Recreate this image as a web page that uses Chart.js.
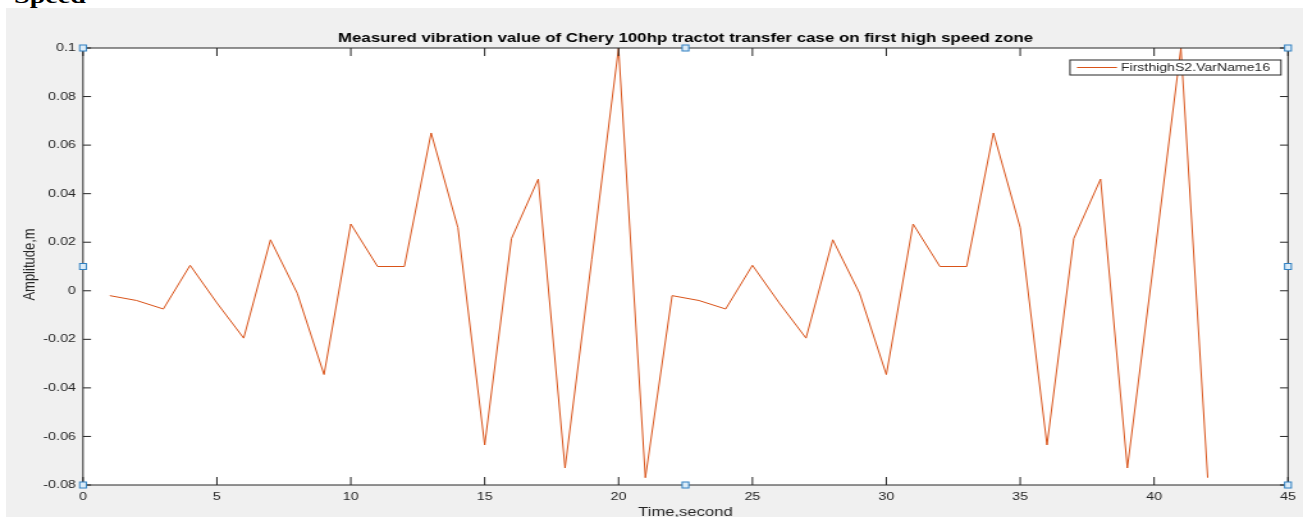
<!DOCTYPE html>
<html>
<head>
<meta charset="utf-8">
<script src="https://cdn.jsdelivr.net/npm/chart.js@4.4.1/dist/chart.umd.min.js"></script>
<style>
  html, body { margin: 0; padding: 0; background: #fff; }
  body { width: 1303px; height: 517px; position: relative; overflow: hidden; }
  #figure { position: absolute; left: 6px; top: 8px; right: 0; bottom: 0; background: #f0f0f0; }
  #heading { position: absolute; left: 14px; top: -15px; font: bold 22px "Liberation Serif", "Times New Roman", serif; line-height: 22px; transform: scaleX(1.28); transform-origin: left top; color: #000; white-space: nowrap; }
  #chart { position: absolute; left: 0; top: 0; }
</style>
</head>
<body>
<div id="figure"></div>
<div id="heading">Speed</div>
<!-- the original figure is stretched sideways, so the canvas is too -->
<canvas id="chart" width="1018" height="517" style="width:1303px;height:517px"></canvas>
<script>
var timeSeconds = [1, 2, 3, 4, 5, 6, 7, 8, 9, 10, 11, 12, 13, 14, 15, 16, 17, 18, 19, 20, 21,
                   22, 23, 24, 25, 26, 27, 28, 29, 30, 31, 32, 33, 34, 35, 36, 37, 38, 39, 40, 41, 42]
var amplitude = [-0.002, -0.004, -0.0075, 0.0105, -0.005, -0.0195, 0.021, -0.001, -0.0345, 0.0275, 0.01,
                 0.01, 0.065, 0.026, -0.0635, 0.0215, 0.046, -0.073, 0.013, 0.1, -0.077,
                 -0.002, -0.004, -0.0075, 0.0105, -0.005, -0.0195, 0.021, -0.001, -0.0345, 0.0275, 0.01,
                 0.01, 0.065, 0.026, -0.0635, 0.0215, 0.046, -0.073, 0.013, 0.1, -0.077]
var xTicks = [0, 5, 10, 15, 20, 25, 30, 35, 40, 45]
var yTicks = [-0.08, -0.06, -0.04, -0.02, 0, 0.02, 0.04, 0.06, 0.08, 0.1]

var chartTitle = 'Measured vibration value of Chery 100hp tractot transfer case on first high speed zone'
var xTitle = 'Time,second'
var yTitle = 'Amplitude,m'
var seriesName = 'FirsthighS2.VarName16'

var sx = 1.28   // horizontal stretch of the picture
var fam = '"Liberation Sans", Arial, Helvetica, sans-serif'
var axisColor = '#262626'
var lineColor = '#D95319'

// matlab style box, inward ticks, labels, legend and edit handles
var matlabAxes = {
    id: 'matlabAxes',
    beforeDraw: function(chart){
        var a = chart.chartArea
        chart.ctx.save()
        chart.ctx.fillStyle = '#fff'
        chart.ctx.fillRect(a.left, a.top, a.right - a.left, a.bottom - a.top)
        chart.ctx.restore()
    },
    afterDraw: function(chart){
        var ctx = chart.ctx
        var a = chart.chartArea
        var xs = chart.scales.x
        var ys = chart.scales.y

        function seg(x1, y1, x2, y2){
            ctx.beginPath()
            ctx.moveTo(x1, y1)
            ctx.lineTo(x2, y2)
            ctx.stroke()
        }

        ctx.save()
        ctx.strokeStyle = axisColor
        ctx.lineWidth = 1
        ctx.strokeRect(a.left, a.top, a.right - a.left, a.bottom - a.top)

        xTicks.forEach(function(v){
            var px = xs.getPixelForValue(v)
            seg(px, a.bottom, px, a.bottom - 8)
            seg(px, a.top, px, a.top + 8)
        })
        yTicks.forEach(function(v){
            var py = ys.getPixelForValue(v)
            seg(a.left, py, a.left + 8 / sx, py)
            seg(a.right, py, a.right - 8 / sx, py)
        })

        var cx = (a.left + a.right) / 2
        ctx.textAlign = 'center'
        ctx.textBaseline = 'middle'
        ctx.fillStyle = '#000'
        ctx.font = 'bold 13.2px ' + fam
        ctx.fillText(chartTitle, cx, 38)

        ctx.fillStyle = axisColor
        ctx.font = '13px ' + fam
        ctx.fillText(xTitle, cx, 512)

        ctx.save()
        ctx.translate(30 / sx, (a.top + a.bottom) / 2 - 2)
        ctx.rotate(-Math.PI / 2)
        ctx.fillText(yTitle, 0, 0)
        ctx.restore()

        // legend
        var lx = 1070 / sx, lr = 1281 / sx, ly = 60, lb = 75
        ctx.fillStyle = '#fff'
        ctx.fillRect(lx, ly, lr - lx, lb - ly)
        ctx.strokeStyle = axisColor
        ctx.strokeRect(lx, ly, lr - lx, lb - ly)
        ctx.strokeStyle = lineColor
        seg(1077 / sx, (ly + lb) / 2, 1117 / sx, (ly + lb) / 2)
        ctx.fillStyle = axisColor
        ctx.font = '11px ' + fam
        ctx.textAlign = 'left'
        ctx.fillText(seriesName, 1121 / sx, (ly + lb) / 2 + 0.5)

        // selection handles
        var hx = [a.left, cx, a.right]
        var hy = [a.top, (a.top + a.bottom) / 2, a.bottom]
        ctx.fillStyle = '#dcecf8'
        ctx.strokeStyle = '#2f7fc1'
        hx.forEach(function(x, i){
            hy.forEach(function(y, j){
                if (i === 1 && j === 1) return
                ctx.fillRect(x - 2.6, y - 3, 5.2, 6)
                ctx.strokeRect(x - 2.6, y - 3, 5.2, 6)
            })
        })
        ctx.restore()
    }
}

var points = timeSeconds.map(function(t, i){ return {x: t, y: amplitude[i]} })

var chart = new Chart(document.getElementById('chart').getContext('2d'), {
    type: 'line',
    data: {
        datasets: [{
            label: seriesName,
            data: points,
            borderColor: lineColor,
            borderWidth: 1,
            pointRadius: 0,
            tension: 0,
            fill: false
        }]
    },
    options: {
        responsive: false,
        animation: false,
        devicePixelRatio: 1,
        layout: {padding: {top: 48, right: 8, bottom: 0, left: 0}},
        plugins: {
            legend: {display: false},
            title: {display: false},
            tooltip: {enabled: false}
        },
        scales: {
            x: {
                type: 'linear',
                min: 0,
                max: 45,
                afterBuildTicks: function(s){ s.ticks = xTicks.map(function(v){ return {value: v} }) },
                afterFit: function(s){ s.height = 32 },
                grid: {display: false, drawTicks: false},
                border: {display: false},
                ticks: {
                    padding: 5.5,
                    maxRotation: 0,
                    autoSkip: false,
                    color: axisColor,
                    font: {family: fam, size: 11.2}
                }
            },
            y: {
                type: 'linear',
                min: -0.08,
                max: 0.1,
                afterBuildTicks: function(s){ s.ticks = yTicks.map(function(v){ return {value: v} }) },
                afterFit: function(s){ s.width = 83 / sx },
                grid: {display: false, drawTicks: false},
                border: {display: false},
                ticks: {
                    padding: 5.5,
                    autoSkip: false,
                    color: axisColor,
                    font: {family: fam, size: 11.2},
                    callback: function(v){ return String(Number(v.toFixed(2))) }
                }
            }
        }
    },
    plugins: [matlabAxes]
})
</script>
</body>
</html>
